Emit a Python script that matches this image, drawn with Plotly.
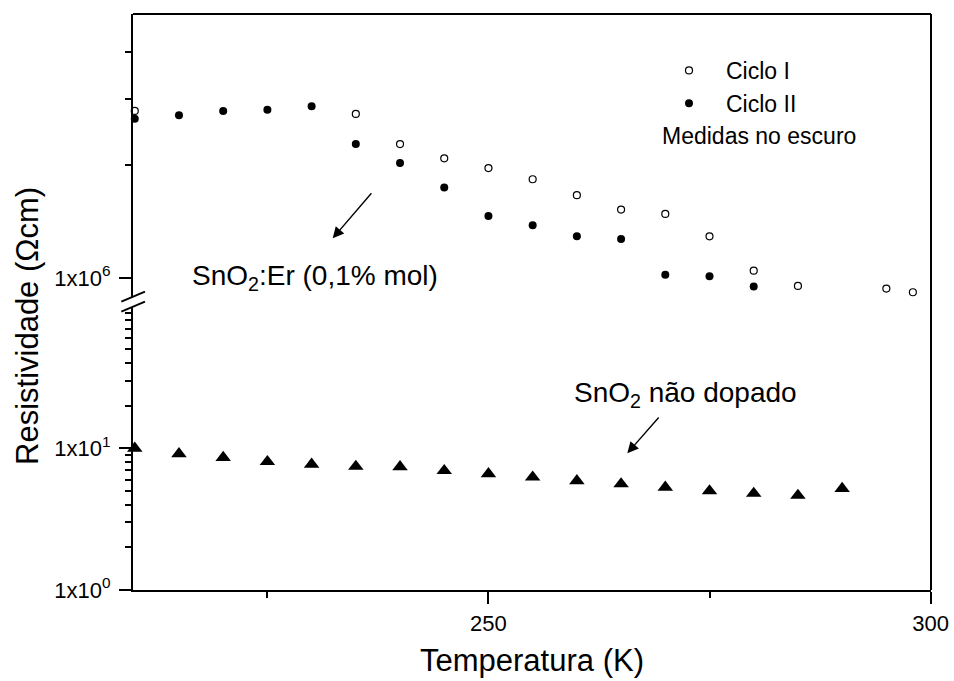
import plotly.graph_objects as go

# ---------------- data ----------------
temp_ciclo1 = [210, 235, 240, 245, 250, 255, 260, 265, 270, 275, 280, 285, 295, 298]
rho_ciclo1 = [2.78e6, 2.73e6, 2.27e6, 2.08e6, 1.96e6, 1.83e6, 1.66e6, 1.52e6,
              1.48e6, 1.29e6, 1.045e6, 0.952e6, 0.937e6, 0.916e6]

temp_ciclo2 = [210, 215, 220, 225, 230, 235, 240, 245, 250, 255, 260, 265, 270, 275, 280]
rho_ciclo2 = [2.65e6, 2.71e6, 2.78e6, 2.80e6, 2.86e6, 2.27e6, 2.02e6, 1.74e6,
              1.46e6, 1.38e6, 1.29e6, 1.27e6, 1.02e6, 1.01e6, 0.948e6]

temp_undoped = [210, 215, 220, 225, 230, 235, 240, 245, 250, 255, 260, 265, 270,
                275, 280, 285, 290]
rho_undoped = [10.0, 9.15, 8.6, 8.05, 7.7, 7.45, 7.4, 6.95, 6.6, 6.25, 5.9, 5.6,
               5.3, 5.0, 4.8, 4.65, 5.2]

x_ticks = [250, 300]
x_minor = [225, 275]
y_low_ticks = [1, 10]
y_low_labels = ["1x10<sup>0</sup>", "1x10<sup>1</sup>"]
y_low_minor = [2, 3, 4, 5, 6, 7, 8, 9, 20, 30, 40, 50, 60, 70, 80, 90]
y_up_ticks = [1e6]
y_up_labels = ["1x10<sup>6</sup>"]
y_up_minor = [2e6, 3e6, 4e6]

# ---------------- layout geometry ----------------
W, H = 954, 681
L, R, T, B = 133, 931, 14, 590


def px_x(p):
    return (p - L) / (R - L)


def px_y(p):
    return (B - p) / (B - T)


FONT = "Arial, Liberation Sans, sans-serif"
BLACK = "#000000"

fig = go.Figure()

fig.add_trace(go.Scatter(
    x=temp_ciclo1, y=rho_ciclo1, mode="markers", name="Ciclo I",
    xaxis="x", yaxis="y2", cliponaxis=False,
    marker=dict(symbol="circle-open", size=7, color=BLACK, line=dict(width=1.2, color=BLACK)),
))
fig.add_trace(go.Scatter(
    x=temp_ciclo2, y=rho_ciclo2, mode="markers", name="Ciclo II",
    xaxis="x", yaxis="y2", cliponaxis=False,
    marker=dict(symbol="circle", size=8, color=BLACK),
))
fig.add_trace(go.Scatter(
    x=temp_undoped, y=rho_undoped, mode="markers", name="SnO2 não dopado",
    xaxis="x", yaxis="y", cliponaxis=False, showlegend=False,
    marker=dict(symbol="triangle-up", size=13.5, color=BLACK),
))

low_top = 306.7
up_bottom = 296.7

axis_common = dict(showgrid=False, zeroline=False, showline=True, linewidth=2,
                   linecolor=BLACK, ticks="outside", ticklen=12, tickwidth=2,
                   tickcolor=BLACK, automargin=False,
                   tickfont=dict(family=FONT, size=22, color=BLACK))

fig.update_layout(
    template="none",
    width=W, height=H,
    margin=dict(l=L, r=W - R, t=T, b=H - B, pad=0),
    paper_bgcolor="white", plot_bgcolor="white",
    font=dict(family=FONT, color=BLACK),
    xaxis=dict(range=[209.8, 300.05], tickvals=x_ticks, ticktext=[str(v) for v in x_ticks],
               anchor="y", ticklabelstandoff=1,
               minor=dict(tickvals=x_minor, ticks="outside", ticklen=6, tickwidth=2,
                          tickcolor=BLACK, showgrid=False),
               **axis_common),
    yaxis=dict(type="log", range=[0, 1.999], domain=[0, px_y(low_top)],
               tickvals=y_low_ticks, ticktext=y_low_labels, anchor="x",
               ticklabelstandoff=4,
               minor=dict(tickvals=y_low_minor, ticks="outside", ticklen=6, tickwidth=2,
                          tickcolor=BLACK, showgrid=False),
               **axis_common),
    yaxis2=dict(type="log", range=[5.950, 6.702], domain=[px_y(up_bottom), 1],
                tickvals=y_up_ticks, ticktext=y_up_labels, anchor="x",
                ticklabelstandoff=4,
                minor=dict(tickvals=y_up_minor, ticks="outside", ticklen=6, tickwidth=2,
                           tickcolor=BLACK, showgrid=False),
                **axis_common),
    showlegend=True,
    legend=dict(x=px_x(652), y=px_y(49), xanchor="left", yanchor="top",
                bgcolor="rgba(0,0,0,0)", borderwidth=0, itemwidth=64,
                font=dict(family=FONT, size=23, color=BLACK)),
)

# frame (top, right) and axis-break marks
shapes = [
    dict(type="line", xref="paper", yref="paper", x0=0, x1=1, y0=1, y1=1,
         line=dict(color=BLACK, width=2)),
    dict(type="line", xref="paper", yref="paper", x0=1, x1=1, y0=0, y1=1,
         line=dict(color=BLACK, width=2)),
]
for yc in (up_bottom, low_top):
    shapes.append(dict(type="line", xref="paper", yref="paper",
                       x0=px_x(L - 11.7), y0=px_y(yc + 5), x1=px_x(L + 12), y1=px_y(yc - 5),
                       line=dict(color=BLACK, width=2)))
fig.update_layout(shapes=shapes)

ann = [
    dict(text="Resistividade (Ωcm)", x=px_x(27), y=px_y(326), textangle=-90,
         font=dict(size=31)),
    dict(text="Temperatura (K)", x=px_x(532), y=px_y(660), font=dict(size=31)),
    dict(text="SnO<sub>2</sub>:Er (0,1% mol)", x=px_x(314.5), y=px_y(277),
         font=dict(size=28)),
    dict(text="SnO<sub>2</sub> não dopado", x=px_x(685), y=px_y(395),
         font=dict(size=28)),
    dict(text="Medidas no escuro", x=px_x(660), y=px_y(136), xanchor="left",
         font=dict(size=23)),
]
for a in ann:
    a.update(xref="paper", yref="paper", showarrow=False)
    a.setdefault("xanchor", "center")
    a["yanchor"] = "middle"
    a["font"] = dict(family=FONT, color=BLACK, size=a["font"]["size"])
    fig.add_annotation(**a)

arrows = [
    ((332.7, 238.3), (372.7, 191.7)),
    ((627.3, 453.3), (660.0, 416.0)),
]
for (tx, ty), (sx, sy) in arrows:
    fig.add_annotation(text="", xref="paper", yref="paper", x=px_x(tx), y=px_y(ty),
                       ax=sx - tx, ay=sy - ty, showarrow=True, arrowhead=2,
                       arrowsize=1.6, arrowwidth=1.4, arrowcolor=BLACK, standoff=0,
                       startstandoff=0)

fig.write_html("out.html",
               config={"displayModeBar": False, "staticPlot": True},
               post_script="document.body.style.margin='0';document.body.style.padding='0';")
